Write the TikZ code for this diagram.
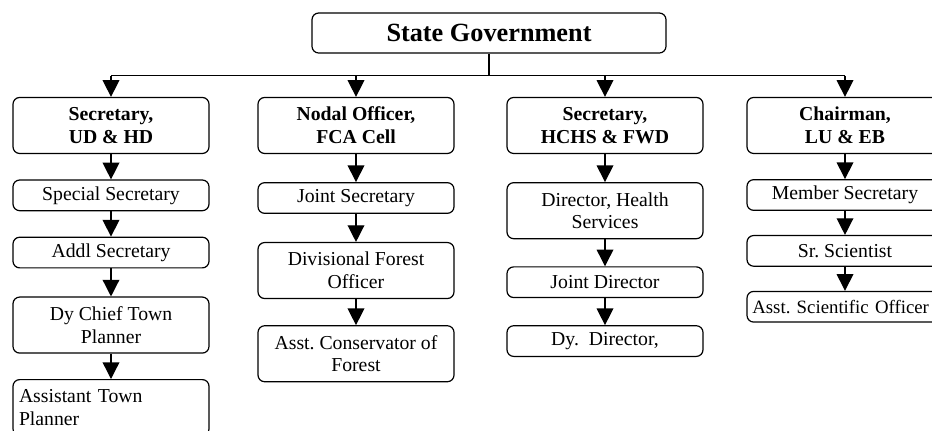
\documentclass[tikz,border=0pt]{standalone}
\usepackage{fontspec}
\setmainfont{Liberation Serif}
\frenchspacing
\usetikzlibrary{arrows.meta,positioning,calc}

\begin{document}
\begin{tikzpicture}[
    x=1pt, y=1pt,
    box/.style={rectangle, draw, line width=0.9pt, rounded corners=5pt, minimum width=147pt, minimum height=23pt, inner sep=2pt, align=center, font=\fontsize{14.8}{17}\selectfont},
    tall/.style={box, minimum height=42pt},
    head/.style={tall, font=\fontsize{14.8}{17}\selectfont\bfseries},
    leftbox/.style={tall, text width=138pt, align=left},
    link/.style={line width=1pt, -{Triangle[length=12.5pt,width=12.5pt]}}
]
    \useasboundingbox (0,0) rectangle (699,-322.5);
    \clip (0,0) rectangle (699,-322.5);

    \node[box, minimum width=265.5pt, minimum height=30pt, font=\fontsize{19.7}{22}\selectfont\bfseries] (gov) at (366.75,-24.75) {State Government};

    % department heads
    \node[head] (ud) at (83.25,-94.1) {Secretary,\\UD \& HD};
    \node[head] (fca) at (267,-94.1) {Nodal Officer,\\FCA Cell};
    \node[head] (hchs) at (453.75,-94.1) {Secretary,\\HCHS \& FWD};
    \node[head] (lueb) at (633.75,-94.1) {Chairman,\\LU \& EB};

    % UD & HD
    \node[box, below=19pt of ud] (spsec) {Special Secretary};
    \node[box, below=19pt of spsec] (addl) {Addl Secretary};
    \node[tall, below=21pt of addl] (dyctp) {Dy Chief Town\\Planner};
    \node[leftbox, below=19pt of dyctp] (atp) {Assistant Town\\Planner};

    % FCA cell
    \node[box, below=21pt of fca] (jsec) {Joint Secretary};
    \node[tall, below=21pt of jsec] (dfo) {Divisional Forest\\Officer};
    \node[tall, below=19.5pt of dfo] (acf) {Asst. Conservator of\\Forest};

    % HCHS & FWD
    \node[tall, below=21pt of hchs] (dhs) {Director, Health\\Services};
    \node[box, below=20.25pt of dhs] (jdir) {Joint Director};
    \node[box, below=20.25pt of jdir] (dydir) {Dy.~~Director,};

    % LU & EB
    \node[box, below=18.75pt of lueb] (msec) {Member Secretary};
    \node[box, below=18pt of msec] (srsci) {Sr. Scientist};
    \node[box, minimum height=23pt, text width=139pt, align=left, font=\fontsize{14.1}{17}\selectfont, below=18pt of srsci] (aso) {\mbox{Asst. Scientific Officer}};

    % bus from the top box
    \coordinate (bus) at ($(gov.south)+(0,-16.5)$);
    \draw[line width=1pt] (gov.south) -- (bus);
    \draw[line width=1pt] (ud.north |- bus) -- (lueb.north |- bus);
    \foreach \n in {ud,fca,hchs,lueb}
        \draw[link] (\n.north |- bus) -- (\n.north);

    \foreach \a/\b in {ud/spsec,spsec/addl,addl/dyctp,dyctp/atp,
                       fca/jsec,jsec/dfo,dfo/acf,
                       hchs/dhs,dhs/jdir,jdir/dydir,
                       lueb/msec,msec/srsci,srsci/aso}
        \draw[link] (\a) -- (\b);
\end{tikzpicture}
\end{document}
